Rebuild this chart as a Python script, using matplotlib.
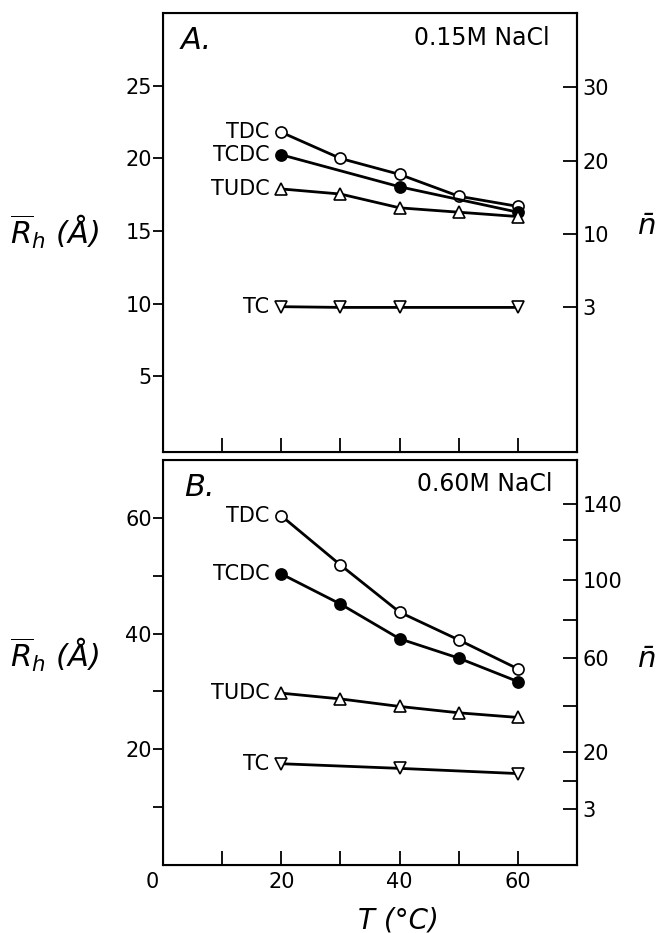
import matplotlib
matplotlib.use("Agg")
import matplotlib.pyplot as plt
import matplotlib.transforms as mtransforms

# temperatures (deg C)
temps = [20, 30, 40, 50, 60]
temps_a_tcdc = [20, 40, 60]
temps_a_tc = [20, 30, 40, 60]
temps_b_tc = [20, 40, 60]

# panel A, 0.15M NaCl : mean hydrodynamic radius (A)
a_tdc = [21.8, 20.0, 18.9, 17.4, 16.7]
a_tcdc = [20.25, 18.05, 16.3]
a_tudc = [17.9, 17.55, 16.6, 16.3, 16.0]
a_tc = [9.8, 9.75, 9.75, 9.75]

# panel B, 0.60M NaCl
b_tdc = [60.35, 51.85, 43.7, 38.9, 33.9]
b_tcdc = [50.3, 45.1, 39.1, 35.75, 31.7]
b_tudc = [29.7, 28.7, 27.4, 26.3, 25.5]
b_tc = [17.5, 16.7, 15.8]

# axes ticks
x_ticks = [0, 10, 20, 30, 40, 50, 60]
x_labels = ["0", "", "20", "", "40", "", "60"]
a_left_ticks = [5, 10, 15, 20, 25]
a_right_ticks = [24.93, 19.8, 14.8, 9.75]
a_right_labels = ["30", "20", "10", "3"]
b_left_ticks = [10, 20, 30, 40, 50, 60]
b_left_labels = ["", "20", "", "40", "", "60"]
b_right_ticks = [62.4, 56.1, 49.3, 42.4, 35.7, 27.4, 19.5, 14.5, 9.7]
b_right_labels = ["140", "", "100", "", "60", "", "20", "", "3"]

plt.rcParams["font.family"] = ["DejaVu Sans"]
plt.rcParams["mathtext.fontset"] = "custom"
plt.rcParams["mathtext.rm"] = "DejaVu Sans:italic"
plt.rcParams["mathtext.it"] = "DejaVu Sans:italic"

fig = plt.figure(figsize=(6.63, 9.33), dpi=100)
ax_a = fig.add_axes([0.2459, 0.5155, 0.6244, 0.4705])
ax_b = fig.add_axes([0.2459, 0.0729, 0.6244, 0.4341])

open_kw = dict(color="black", lw=2.0, mfc="white", mec="black", mew=1.2, ms=8)
fill_kw = dict(color="black", lw=2.0, mfc="black", mec="black", mew=1.2, ms=8)
tick_fs = 15


def style_axes(ax, ylim, left_ticks, left_labels, right_ticks, right_labels, show_x):
    ax.set_xlim(0, 70)
    ax.set_ylim(*ylim)
    for s in ax.spines.values():
        s.set_linewidth(1.5)
    ax.set_xticks(x_ticks)
    ax.set_xticklabels(x_labels if show_x else [])
    ax.tick_params(axis="x", direction="in", length=10, width=1.3, pad=5, labelsize=tick_fs)
    ax.set_yticks(left_ticks)
    ax.set_yticklabels(left_labels)
    ax.tick_params(axis="y", direction="out", length=7, width=1.3, pad=1, labelsize=tick_fs)
    axr = ax.twinx()
    axr.set_ylim(*ylim)
    axr.spines["right"].set_linewidth(1.5)
    axr.set_yticks(right_ticks)
    axr.set_yticklabels(right_labels)
    axr.tick_params(axis="y", direction="in", length=10, width=1.3, pad=4, labelsize=tick_fs)
    return axr


style_axes(ax_a, (-0.2, 30), a_left_ticks, [str(v) for v in a_left_ticks],
           a_right_ticks, a_right_labels, False)
style_axes(ax_b, (0, 70), b_left_ticks, b_left_labels,
           b_right_ticks, b_right_labels, True)

# shift the "0" label a bit to the left like the original
lab0 = ax_b.get_xticklabels()[0]
lab0.set_transform(lab0.get_transform() + mtransforms.ScaledTranslation(-0.11, 0, fig.dpi_scale_trans))

# panel A curves
ax_a.plot(temps, a_tdc, marker="o", **open_kw)
ax_a.plot(temps_a_tcdc, a_tcdc, marker="o", **fill_kw)
ax_a.plot(temps, a_tudc, marker="^", **open_kw)
ax_a.plot(temps_a_tc, a_tc, marker="v", **open_kw)

# panel B curves
ax_b.plot(temps, b_tdc, marker="o", **open_kw)
ax_b.plot(temps, b_tcdc, marker="o", **fill_kw)
ax_b.plot(temps, b_tudc, marker="^", **open_kw)
ax_b.plot(temps_b_tc, b_tc, marker="v", **open_kw)

# curve names
for ax, vals in [(ax_a, [a_tdc[0], a_tcdc[0], a_tudc[0], a_tc[0]]),
                 (ax_b, [b_tdc[0], b_tcdc[0], b_tudc[0], b_tc[0]])]:
    for name, v in zip(["TDC", "TCDC", "TUDC", "TC"], vals):
        ax.text(18.0, v, name, ha="right", va="center", fontsize=tick_fs)

ax_a.text(3.0, 28.1, "A.", fontsize=22, style="italic", ha="left", va="center")
ax_a.text(65.3, 28.3, "0.15M NaCl", fontsize=17, ha="right", va="center")
ax_b.text(3.5, 65.3, "B.", fontsize=22, style="italic", ha="left", va="center")
ax_b.text(65.9, 65.8, "0.60M NaCl", fontsize=17, ha="right", va="center")

# axis titles
rh = r"$\overline{R}_h\ (Å)$"
fig.text(55 / 663, 1 - 232 / 933, rh, fontsize=22, ha="center", va="center")
fig.text(55 / 663, 1 - 655 / 933, rh, fontsize=22, ha="center", va="center")
fig.text(646 / 663, 1 - 227 / 933, r"$\bar{n}$", fontsize=21, ha="center", va="center")
fig.text(646 / 663, 1 - 660 / 933, r"$\bar{n}$", fontsize=21, ha="center", va="center")
fig.text(398 / 663, 1 - 920 / 933, "T (°C)", fontsize=20, style="italic", ha="center", va="center")

fig.savefig("out.png", dpi=100)
